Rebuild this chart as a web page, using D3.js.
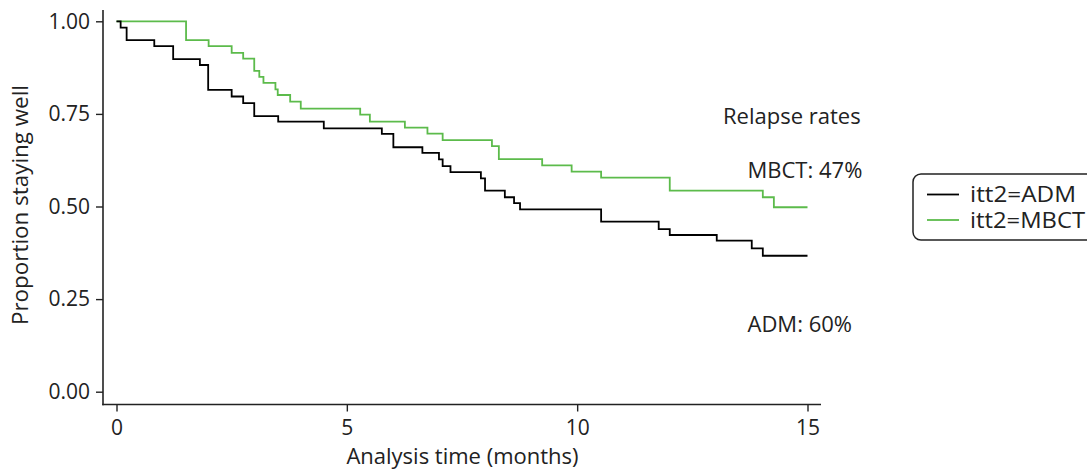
<!DOCTYPE html>
<html>
<head>
<meta charset="utf-8">
<script src="https://cdn.jsdelivr.net/npm/d3@7"></script>
<style>
  html, body { margin: 0; padding: 0; background: #fff; }
  svg { display: block; font-family: "Open Sans", "Noto Sans", sans-serif; }
</style>
</head>
<body>
<svg id="chart" width="1087" height="470"></svg>
<script>
// Kaplan–Meier step estimates (time in months, proportion staying well)
const admTimes = [0, 0.09, 0.22, 0.82, 1.23, 1.81, 1.99, 2.5, 2.75, 2.99, 3.51, 4.5, 5.76, 6.01, 6.64, 7.0, 7.08, 7.25, 7.91, 8.0, 8.43, 8.63, 8.76, 10.52, 11.77, 12.01, 13.03, 13.79, 14.03];
const admSurv  = [1.0, 0.983, 0.949, 0.933, 0.898, 0.882, 0.815, 0.797, 0.779, 0.744, 0.729, 0.711, 0.696, 0.660, 0.645, 0.627, 0.609, 0.593, 0.576, 0.543, 0.525, 0.509, 0.492, 0.459, 0.439, 0.423, 0.408, 0.387, 0.367];
const mbctTimes = [0, 1.51, 2.0, 2.5, 2.75, 2.99, 3.1, 3.19, 3.45, 3.5, 3.77, 4.0, 5.29, 5.5, 6.26, 6.75, 7.08, 8.15, 8.3, 9.24, 9.88, 10.52, 12.01, 14.03, 14.27];
const mbctSurv  = [1.0, 0.949, 0.933, 0.915, 0.899, 0.866, 0.850, 0.834, 0.816, 0.801, 0.783, 0.764, 0.748, 0.729, 0.713, 0.697, 0.679, 0.663, 0.628, 0.611, 0.594, 0.578, 0.543, 0.525, 0.498];
const followUpEnd = 15;

const xTicks = [0, 5, 10, 15];
const yTicks = [0, 0.25, 0.5, 0.75, 1.0];
const seriesNames = ["itt2=ADM", "itt2=MBCT"];
const seriesColors = ["#000000", "#5cbb4b"];
const annotations = ["Relapse rates", "MBCT: 47%", "ADM: 60%"];

const svg = d3.select("#chart");
const x = d3.scaleLinear().domain([0, 15]).range([116.5, 807.5]);
const y = d3.scaleLinear().domain([0, 1]).range([391.7, 21.3]);

const axisX = 103, axisY = 404.5;
const ink = "#222";

// Y axis
const gy = svg.append("g").attr("transform", `translate(${axisX},0)`)
  .call(d3.axisLeft(y).tickValues(yTicks).tickFormat(d3.format(".2f")).tickSize(7).tickPadding(6));
gy.select(".domain").remove();
gy.selectAll("line").attr("stroke", ink).attr("stroke-width", 1.4);
gy.selectAll("text").attr("font-size", 21).attr("fill", ink).attr("font-family", "Open Sans, sans-serif");
svg.append("line").attr("x1", axisX).attr("x2", axisX).attr("y1", 10).attr("y2", axisY + 0.8)
  .attr("stroke", ink).attr("stroke-width", 1.6);

// X axis
const gx = svg.append("g").attr("transform", `translate(0,${axisY})`)
  .call(d3.axisBottom(x).tickValues(xTicks).tickSize(7).tickPadding(9));
gx.select(".domain").remove();
gx.selectAll("line").attr("stroke", ink).attr("stroke-width", 1.4);
gx.selectAll("text").attr("font-size", 21).attr("fill", ink).attr("font-family", "Open Sans, sans-serif");
svg.append("line").attr("x1", axisX - 0.8).attr("x2", 821).attr("y1", axisY).attr("y2", axisY)
  .attr("stroke", ink).attr("stroke-width", 1.6);

// Axis titles
svg.append("text").attr("x", 462.5).attr("y", 464).attr("text-anchor", "middle")
  .attr("font-size", 22).attr("fill", ink).text("Analysis time (months)");
svg.append("text").attr("transform", "translate(28,205) rotate(-90)").attr("text-anchor", "middle")
  .attr("font-size", 21).attr("fill", ink)
  .attr("textLength", 240).attr("lengthAdjust", "spacingAndGlyphs")
  .text("Proportion staying well");

// Step curves
function stepData(times, surv) {
  const pts = times.map((t, i) => [t, surv[i]]);
  pts.push([followUpEnd, surv[surv.length - 1]]);
  return pts;
}
const line = d3.line().x(d => x(d[0])).y(d => y(d[1])).curve(d3.curveStepAfter);
const series = [stepData(admTimes, admSurv), stepData(mbctTimes, mbctSurv)];
// draw MBCT first so ADM sits on top where they overlap
[1, 0].forEach(i => {
  svg.append("path").datum(series[i]).attr("d", line)
    .attr("fill", "none").attr("stroke", seriesColors[i]).attr("stroke-width", 1.8);
});

// Annotations
svg.append("text").attr("x", 723).attr("y", 123.5).attr("font-size", 22).attr("fill", ink).text(annotations[0]);
svg.append("text").attr("x", 747.5).attr("y", 177.5).attr("font-size", 22).attr("fill", ink).text(annotations[1]);
svg.append("text").attr("x", 747.5).attr("y", 331.5).attr("font-size", 22).attr("fill", ink).text(annotations[2]);

// Legend
const lg = svg.append("g");
lg.append("rect").attr("x", 913).attr("y", 174).attr("width", 200).attr("height", 66).attr("rx", 8)
  .attr("fill", "#fff").attr("stroke", ink).attr("stroke-width", 1.5);
const legendWidths = [106, 115];
seriesNames.forEach((name, i) => {
  const ly = 194.5 + i * 25.5;
  lg.append("line").attr("x1", 927).attr("x2", 959).attr("y1", ly).attr("y2", ly)
    .attr("stroke", seriesColors[i]).attr("stroke-width", 1.8);
  lg.append("text").attr("x", 970).attr("y", ly + 7.5).attr("font-size", 21).attr("fill", ink)
    .attr("textLength", legendWidths[i]).attr("lengthAdjust", "spacingAndGlyphs").text(name);
});
</script>
</body>
</html>
